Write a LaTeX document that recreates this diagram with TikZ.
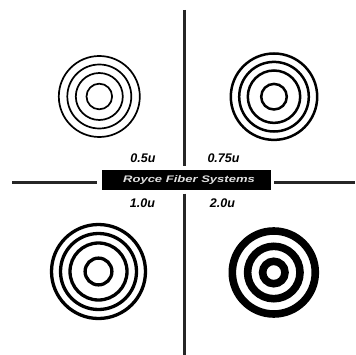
\documentclass[tikz,border=0pt]{standalone}
\usepackage{fontspec}
\setmainfont{Liberation Sans}
\begin{document}
\begin{tikzpicture}[x=1pt,y=-1pt,
  axis/.style={line width=2.8pt, black!85},
  lab/.style={font=\fontsize{12.5}{14}\selectfont\bfseries\itshape, inner sep=0pt},
  brandbox/.style={fill=black, minimum width=169pt, minimum height=19pt, inner sep=0pt, text=white!88!black,
    font=\fontsize{9.5}{11}\selectfont\bfseries\itshape}]
\useasboundingbox (0,0) rectangle (355,355);
% centres
\coordinate (ctl) at (99.3,96.5);
\coordinate (ctr) at (274,96.7);
\coordinate (cbl) at (98.5,271.5);
\coordinate (cbr) at (273.8,272.5);
% axes
\coordinate (vt) at (184.5,10);
\coordinate (vtm) at (184.5,166.5);
\coordinate (vbm) at (184.5,193.5);
\coordinate (vb) at (184.5,355);
\coordinate (hl) at (12,182.5);
\coordinate (hlm) at (97,182.5);
\coordinate (hrm) at (274,182.5);
\coordinate (hr) at (355,182.5);
\draw[axis] (vt) -- (vtm);
\draw[axis] (vbm) -- (vb);
\draw[axis] (hl) -- (hlm);
\draw[axis] (hrm) -- (hr);
\node[brandbox] (brand) at (186.5,180) {\hspace*{5pt}\scalebox{1.37}[1]{Royce Fiber Systems}};
% labels
\node[lab] (l1) at (143,158.5) {0.5u};
\node[lab] (l2) at (223.5,158.5) {0.75u};
\node[lab] (l3) at (142.5,203) {1.0u};
\node[lab] (l4) at (222.5,203) {2.0u};
% targets
\foreach \r in {40.5,32,23.5,12.8} \draw[line width=1.7pt] (ctl) circle (\r);
\foreach \r in {43.2,34.8,26.2,12.8} \draw[line width=2.5pt] (ctr) circle (\r);
\foreach \r in {47,38,28.5,13.4} \draw[line width=3.3pt] (cbl) circle (\r);
\foreach \r in {41.5,26.2,11.2} \draw[line width=7.6pt] (cbr) circle (\r);
\end{tikzpicture}
\end{document}
